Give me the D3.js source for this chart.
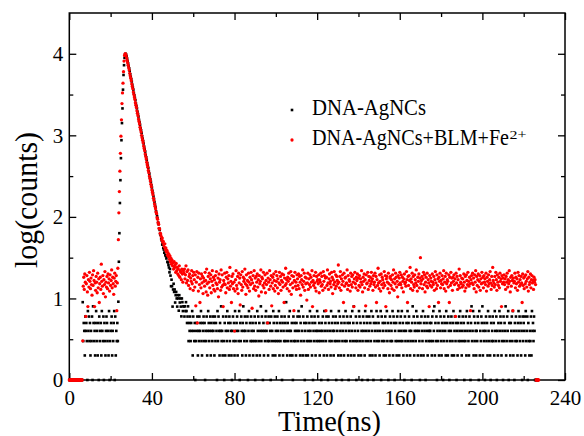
<!DOCTYPE html>
<html>
<head>
<meta charset="utf-8">
<script src="https://cdn.jsdelivr.net/npm/d3@7"></script>
<style>
  body { margin: 0; background: #fff; }
  svg { display: block; }
  text { font-family: "Liberation Serif", "Times New Roman", serif; fill: #000; }
</style>
</head>
<body>
<svg id="chart" width="584" height="436"></svg>
<script>
// TCSPC histogram, one value per channel
const channelNs = 0.25;

// DNA-AgNCs (black) -- counts before the pulse, log(counts) over the pulse, counts after
const blackHeadStart = 0;
const blackHead = "11111111111111111111111111" +
  "935426453174635243618534257342516345274361532465342713456243571624353";
const blackPulseStart = 23.75;
const blackPulse = [0.96, 1.45, 1.80, 2.17, 2.45, 2.72, 2.94, 3.15, 3.33, 3.56, 3.74, 3.86, 3.95, 3.99,
  4.00, 3.99, 3.97, 3.94, 3.91, 3.88, 3.85, 3.82, 3.79, 3.75, 3.72, 3.69, 3.66, 3.62, 3.59, 3.56,
  3.52, 3.49, 3.46, 3.43, 3.39, 3.36, 3.33, 3.29, 3.26, 3.23, 3.19, 3.16, 3.13, 3.09, 3.06, 3.03,
  2.99, 2.96, 2.93, 2.90, 2.86, 2.83, 2.80, 2.76, 2.73, 2.70, 2.66, 2.63, 2.60, 2.56, 2.53, 2.49,
  2.46, 2.43, 2.39, 2.36, 2.32, 2.29, 2.25, 2.22, 2.18, 2.15, 2.12, 2.07, 2.04, 2.01, 1.98, 1.93,
  1.91, 1.86, 1.84, 1.79, 1.78, 1.73, 1.71, 1.66, 1.68, 1.62, 1.60, 1.56, 1.59, 1.53, 1.52, 1.49,
  1.51, 1.45, 1.44, 1.41, 1.38, 1.32, 1.36, 1.28, 1.15, 1.23, 1.15, 0.90, 1.11, 1.18, 1.08, 1.11,
  0.95, 1.04, 1.08, 1.00, 0.90, 1.04, 1.00, 0.85, 1.04, 0.95, 1.00, 0.90, 0.78, 1.00];
const blackTailStart = 54.75;
const blackTail = [
  "978868797568354635472643513456243645732546351436247534625436",
  "452635417364254834263152463745263542146352734562437153642584",
  "364253614725364352436153274635248364152436745326354163427536",
  "243564372534615243653942536472435216354325463746253842635142",
  "536243574362514365243746352431546327453624165342735462435613",
  "452736425134625374365214536247358243615342763524136452734651",
  "346253742615342573465324716354235624735142635437265143526374",
  "253647352416345273564234158362453746254315264372546135426345",
  "435263748253614352746325413654273526413546235724635142536473",
  "524635143627453264158347263542436517243658243514635274362153",
  "463527436142537465234163548236471532546372415364325746352416",
  "354627346153243627453641"].join("");
const blackEndStart = 225.75;
const blackEnd = "11111";

// DNA-AgNCs+BLM+Fe2+ (red), log(counts) per channel
const redHeadStart = 0;
const redHead = [0, 0, 0, 0, 0, 0, 0, 0, 0, 0, 0, 0, 0, 0, 0, 0, 0, 0, 0, 0, 0, 0, 0, 0, 0, 0,
  0.48, 1.15, 1.26, 1.11, 1.30, 1.20, 0.78, 1.18, 1.28, 1.08, 0.90, 1.23, 1.14, 1.32, 1.21, 1.12,
  1.25, 1.17, 1.04, 1.29, 1.16, 1.34, 1.22, 0.90, 1.19, 1.10, 1.27, 1.20, 1.07, 1.31, 1.13, 1.24,
  0.95, 1.18, 1.26, 1.11, 1.42, 1.21, 1.15, 1.28, 1.06, 1.23, 1.17, 1.33, 1.02, 1.20, 1.14, 1.27,
  1.12, 1.30, 1.19, 1.24, 1.09, 1.29, 1.16, 1.22, 1.35, 1.13, 1.26, 1.18, 1.05, 1.25, 1.31, 1.15,
  1.21, 1.28, 0.85, 1.19];
const redPulseStart = 23.5;
const redPulse = [1.37, 1.72, 2.05, 2.31, 2.56, 2.78, 2.99, 3.19, 3.39, 3.52, 3.64, 3.78, 3.91, 3.98,
  4.00, 4.00, 3.98, 3.95, 3.92, 3.89, 3.86, 3.83, 3.80, 3.76, 3.73, 3.70, 3.67, 3.63, 3.60, 3.57,
  3.53, 3.50, 3.47, 3.44, 3.40, 3.37, 3.34, 3.30, 3.27, 3.24, 3.20, 3.17, 3.14, 3.10, 3.07, 3.04,
  3.00, 2.97, 2.94, 2.91, 2.87, 2.84, 2.81, 2.77, 2.74, 2.71, 2.67, 2.64, 2.61, 2.57, 2.54, 2.50,
  2.47, 2.44, 2.40, 2.37, 2.33, 2.30, 2.27, 2.23, 2.20, 2.16, 2.13, 2.10, 2.06, 2.04, 1.99, 1.97,
  1.93, 1.91, 1.86, 1.85, 1.80, 1.79, 1.76, 1.72, 1.74, 1.69, 1.70, 1.66, 1.63, 1.67, 1.60, 1.62,
  1.57, 1.59, 1.53, 1.56, 1.51, 1.54, 1.48, 1.52, 1.45, 1.49, 1.42, 1.47, 1.40, 1.44, 1.36, 1.45,
  1.38, 1.41, 1.32, 1.43, 1.34, 1.38, 1.30, 1.36, 1.28, 1.40, 1.26, 1.34, 1.32, 1.23, 1.36, 1.30,
  1.20, 1.34];
const redTailStart = 55.5;
const redTail = [
  1.31,1.36,1.24,1.29,1.40,1.19,1.33,1.22,1.35,1.16,1.27,1.30,1.12,1.25,1.21,1.34,1.18,1.28,1.10,1.32,
  1.23,1.14,1.29,0.91,1.20,1.33,0.70,1.26,1.09,1.31,1.17,0.95,1.24,1.13,1.30,1.19,1.27,1.06,1.25,1.21,
  1.15,1.32,1.22,1.08,1.36,1.18,1.04,1.27,1.20,1.31,1.13,1.24,1.29,1.07,1.21,1.34,1.16,1.26,1.11,1.23,
  1.09,1.28,1.19,1.33,1.17,1.12,1.25,1.02,1.30,1.20,1.23,1.10,1.35,1.14,1.29,1.16,0.90,1.22,1.18,1.31,
  1.17,1.07,1.26,1.32,1.13,1.24,1.19,1.28,1.11,1.38,1.15,1.21,0.95,1.27,1.18,1.30,1.12,1.20,0.60,1.09,
  1.23,1.34,1.16,1.12,1.27,1.06,1.31,1.19,1.25,0.92,1.29,1.17,1.10,1.33,1.14,1.26,1.21,1.24,1.36,1.18,
  1.05,1.29,1.16,1.22,1.13,1.31,1.20,1.09,1.26,1.17,1.32,1.23,0.88,1.19,1.28,1.12,1.34,1.15,1.25,1.10,
  1.27,1.20,1.30,1.14,1.23,1.03,1.28,1.18,1.21,1.35,1.08,1.26,1.24,1.16,1.32,1.13,1.19,1.29,1.07,1.22,
  1.17,1.31,0.70,1.25,1.20,1.11,1.34,1.23,1.15,1.28,0.91,1.19,1.26,1.12,1.30,1.22,1.09,1.16,1.33,1.21,
  1.28,1.13,1.24,1.06,1.19,1.32,1.17,1.27,1.10,1.22,1.30,1.20,1.14,1.29,0.95,1.25,1.16,1.37,1.18,1.23,
  1.12,1.26,1.21,1.31,1.09,1.24,1.17,1.33,1.05,1.28,1.19,1.13,1.27,0.85,1.22,1.32,1.15,1.20,1.11,1.29,
  1.24,1.16,1.30,1.12,1.27,1.20,1.04,1.28,1.23,1.17,1.35,1.14,1.21,1.31,1.10,1.26,1.18,1.25,0.98,1.19,
  1.31,1.11,1.24,1.17,1.29,1.14,1.26,1.20,1.34,0.90,1.22,1.16,1.28,1.19,1.13,1.32,1.09,1.27,1.21,1.23,
  1.18,1.29,1.07,1.23,1.20,1.31,1.15,1.27,1.17,1.10,1.33,1.21,1.28,1.13,1.25,0.85,1.26,1.16,1.35,1.19,
  1.11,1.24,1.30,1.18,1.21,1.14,1.32,1.26,1.06,1.23,1.17,1.33,1.20,1.12,1.29,1.15,1.27,1.22,1.18,1.41,
  1.20,1.13,1.27,1.33,1.10,1.24,1.17,1.29,1.21,0.95,1.31,1.15,1.25,1.26,1.18,1.19,1.35,1.11,1.28,1.16,
  1.23,1.21,1.09,1.31,1.17,1.27,1.14,1.29,1.20,0.90,1.24,1.32,1.18,1.13,1.26,1.22,1.30,1.10,1.25,1.16,
  1.28,1.14,1.24,1.20,1.34,1.17,1.08,1.26,1.21,1.30,1.13,1.23,0.91,1.29,1.18,1.19,1.32,1.11,1.27,1.22,
  1.15,1.26,1.18,1.32,1.21,1.24,1.10,1.28,1.17,1.20,1.31,1.14,1.27,0.95,1.23,1.16,1.37,1.19,1.12,1.29,
  1.21,1.09,1.30,1.17,1.26,1.23,1.13,1.19,1.33,1.16,1.28,0.90,1.24,1.27,1.20,1.12,1.31,1.18,1.07,1.25,
  1.27,1.16,1.23,1.12,1.29,1.20,1.35,1.10,1.24,1.18,1.31,1.26,1.14,1.21,1.02,1.28,1.17,1.25,1.32,1.19,
  1.17,1.29,1.13,1.26,1.21,1.08,1.24,1.30,1.18,1.20,1.15,1.33,1.23,0.95,1.27,1.16,1.28,1.22,1.38,1.12,
  1.24,1.20,1.31,1.10,1.27,1.17,1.14,1.29,1.23,1.19,1.35,1.16,1.09,1.26,1.21,1.30,1.13,1.25,1.50,1.18,
  1.22,1.27,1.12,1.24,1.32,1.17,1.29,1.08,1.20,1.26,1.15,1.31,1.13,1.23,1.19,0.90,1.28,1.16,1.25,1.21,
  1.14,1.30,1.20,1.17,1.27,1.10,1.23,1.33,1.19,1.12,1.29,1.16,1.24,0.95,1.26,1.21,1.31,1.13,1.22,1.18,
  1.28,1.17,1.24,1.34,1.12,1.20,1.27,1.09,1.31,1.18,1.23,1.21,1.14,1.29,0.95,1.26,1.16,1.32,1.19,1.25,
  1.10,1.26,1.21,1.29,1.17,1.24,0.78,1.31,1.19,1.27,1.11,1.23,1.16,1.36,1.13,1.28,1.20,1.18,1.25,1.14,
  1.24,1.16,1.30,1.20,1.09,1.27,1.13,1.29,1.22,1.17,1.32,1.21,1.15,1.26,1.18,0.85,1.23,1.28,1.19,1.31,
  1.17,1.25,1.12,1.29,1.20,1.34,1.08,1.27,1.16,1.23,1.30,1.14,1.21,1.28,1.10,1.24,1.18,1.32,1.19,1.26,
  1.13,1.28,1.20,1.24,1.17,1.31,1.09,1.26,1.21,1.15,1.29,1.18,1.23,1.33,1.19,1.11,1.27,1.16,1.38,1.22,
  1.19,1.14,1.27,1.17,1.32,1.23,1.10,1.29,1.20,1.16,1.26,1.13,1.31,1.21,1.24,0.90,1.28,1.18,1.25,1.20,
  1.29,1.17,1.24,1.11,1.27,1.20,1.31,1.14,1.23,1.18,1.34,1.21,1.08,1.26,1.15,1.28,1.22,0.85,1.25,1.19,
  1.21,1.31,1.13,1.26,1.18,1.24,1.10,1.32,1.20,1.28,1.15,1.23,1.17,1.27,1.19,0.95,1.30,1.16,1.25,1.12,
  1.27,1.18,1.29,1.21,1.14,1.24,1.33,1.09,1.26,1.17,1.20,1.30,1.13,1.23,1.28,1.19,1.22,1.11,1.26,1.20,
  1.23,1.17];
const redEndStart = 226;
const redEnd = [0, 0, 0, 0, 0, 0];

const xMajor = [0, 40, 80, 120, 160, 200, 240];
const xMinor = [20, 60, 100, 140, 180, 220];
const yMajor = [0, 1, 2, 3, 4];
const yMinor = [0.5, 1.5, 2.5, 3.5];

const seriesNames = ["DNA-AgNCs", "DNA-AgNCs+BLM+Fe"];

// ---------------------------------------------------------------

const svg = d3.select("#chart");
const x = d3.scaleLinear().domain([0, 240]).range([69.3, 565]);
const y = d3.scaleLinear().domain([0, 4.5]).range([380, 13]);

function countsToPoints(counts, start) {
  return counts.map((c, i) => ({ t: start + i * channelNs, c }))
    .filter(d => d.c > 0)
    .map(d => ({ t: d.t, v: Math.log10(d.c) }));
}
function logsToPoints(logs, start) {
  return logs.map((v, i) => ({ t: start + i * channelNs, v }));
}
const digits = s => s.split("").map(Number);

const blackPts = [
  ...countsToPoints(digits(blackHead), blackHeadStart),
  ...logsToPoints(blackPulse, blackPulseStart),
  ...countsToPoints(digits(blackTail), blackTailStart),
  ...countsToPoints(digits(blackEnd), blackEndStart)
];
const redPts = [
  ...logsToPoints(redHead, redHeadStart),
  ...logsToPoints(redPulse, redPulseStart),
  ...logsToPoints(redTail, redTailStart),
  ...logsToPoints(redEnd, redEndStart)
];

const fontF = '"Liberation Serif", "Times New Roman", serif';

function styleAxis(g) {
  g.select(".domain").remove();
  g.attr("font-family", fontF).attr("font-size", 21);
  g.selectAll("line").attr("stroke", "#000").attr("stroke-width", 1.3);
  g.selectAll("text").attr("fill", "#000");
}

// bottom
svg.append("g").attr("transform", "translate(0,380)")
  .call(d3.axisBottom(x).tickValues(xMajor).tickSize(-7).tickPadding(10).tickFormat(d3.format("d")))
  .call(styleAxis);
svg.append("g").attr("transform", "translate(0,380)")
  .call(d3.axisBottom(x).tickValues(xMinor).tickSize(-4).tickFormat(""))
  .call(styleAxis);
// top
svg.append("g").attr("transform", "translate(0,13)")
  .call(d3.axisTop(x).tickValues(xMajor).tickSize(-7).tickFormat(""))
  .call(styleAxis);
svg.append("g").attr("transform", "translate(0,13)")
  .call(d3.axisTop(x).tickValues(xMinor).tickSize(-4).tickFormat(""))
  .call(styleAxis);
// left
svg.append("g").attr("transform", "translate(69.3,0)")
  .call(d3.axisLeft(y).tickValues(yMajor).tickSize(-7).tickPadding(6).tickFormat(d3.format("d")))
  .call(styleAxis);
svg.append("g").attr("transform", "translate(69.3,0)")
  .call(d3.axisLeft(y).tickValues(yMinor).tickSize(-4).tickFormat(""))
  .call(styleAxis);
// right
svg.append("g").attr("transform", "translate(565,0)")
  .call(d3.axisRight(y).tickValues(yMajor).tickSize(-7).tickFormat(""))
  .call(styleAxis);
svg.append("g").attr("transform", "translate(565,0)")
  .call(d3.axisRight(y).tickValues(yMinor).tickSize(-4).tickFormat(""))
  .call(styleAxis);

// frame
svg.append("rect")
  .attr("x", x(0)).attr("y", y(4.5))
  .attr("width", x(240) - x(0)).attr("height", y(0) - y(4.5))
  .attr("fill", "none").attr("stroke", "#000").attr("stroke-width", 1.5);

// data
svg.append("g").selectAll("rect")
  .data(blackPts)
  .join("rect")
  .attr("x", d => x(d.t) - 1.3)
  .attr("y", d => y(d.v) - 1.3)
  .attr("width", 2.6).attr("height", 2.6)
  .attr("fill", "#000");

svg.append("g").selectAll("circle")
  .data(redPts)
  .join("circle")
  .attr("cx", d => x(d.t))
  .attr("cy", d => y(d.v))
  .attr("r", 1.65)
  .attr("fill", "#ff0000");

// legend
svg.append("rect").attr("x", 290.7).attr("y", 108.7).attr("width", 2.6).attr("height", 2.6).attr("fill", "#000");
svg.append("circle").attr("cx", 292).attr("cy", 140).attr("r", 1.65).attr("fill", "#ff0000");
svg.append("text").attr("x", 312).attr("y", 114.5).attr("font-size", 23)
  .attr("textLength", 114).attr("lengthAdjust", "spacingAndGlyphs")
  .text(seriesNames[0]);
svg.append("text").attr("x", 312).attr("y", 145).attr("font-size", 23)
  .attr("textLength", 197).attr("lengthAdjust", "spacingAndGlyphs")
  .text(seriesNames[1]);
svg.append("text").attr("x", 509.5).attr("y", 139).attr("font-size", 13)
  .attr("textLength", 17).attr("lengthAdjust", "spacingAndGlyphs")
  .text("2+");

// axis titles
svg.append("text").attr("x", 329.5).attr("y", 431).attr("font-size", 30)
  .attr("text-anchor", "middle")
  .attr("textLength", 103).attr("lengthAdjust", "spacingAndGlyphs")
  .text("Time(ns)");
svg.append("text").attr("transform", "translate(37,200) rotate(-90)")
  .attr("font-size", 32).attr("text-anchor", "middle")
  .attr("textLength", 136).attr("lengthAdjust", "spacingAndGlyphs")
  .text("log(counts)");
</script>
</body>
</html>
